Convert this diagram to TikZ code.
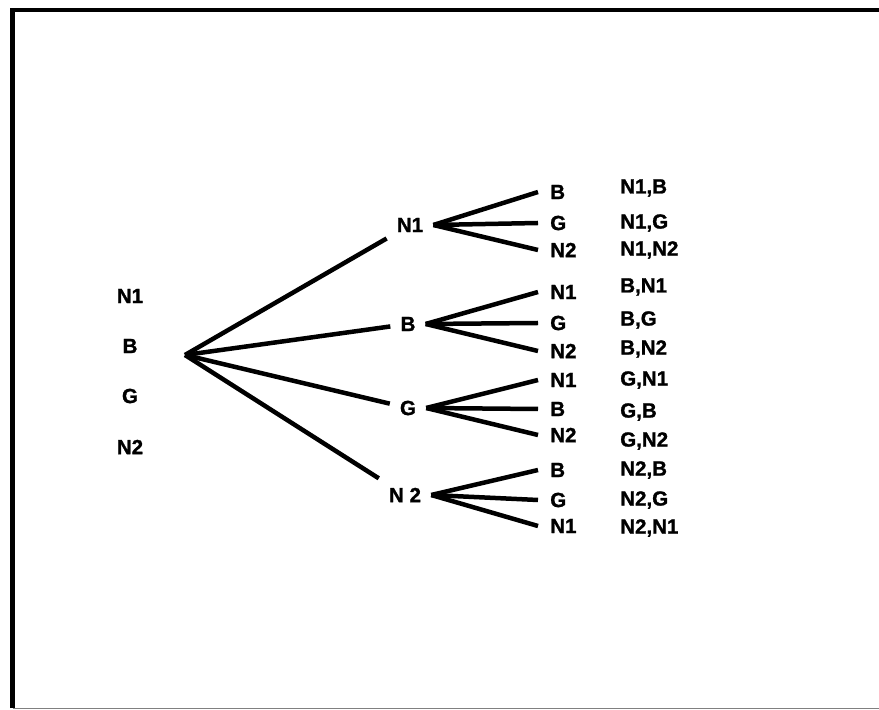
\documentclass[tikz,border=0pt]{standalone}
\usepackage{fontspec}
\setmainfont{Liberation Sans}
\newfontfamily\lblfont{Liberation Sans Bold}[FakeBold=1.2]
\usepackage{tikz}

\begin{document}
\begin{tikzpicture}[line width=3.2pt,
    every node/.style={font=\lblfont\fontsize{14.6}{16}\selectfont},
    mid/.style={inner sep=0.2cm},
    leaf/.style={anchor=west,inner sep=0.25cm},
    pair/.style={anchor=west,inner sep=0pt}]
    \useasboundingbox (0,0) rectangle (21.975,17.725);
    \draw[line width=3pt] (0.3125,0.025) -- (0.3125,17.475) -- (21.975,17.475);
    \draw[line width=0.6pt,gray] (0.3125,0.025) -- (21.975,0.025);

    % left column
    \node (l1) at (3.25,10.325) {N1};
    \node (l2) at (3.25,9.075) {B};
    \node (l3) at (3.25,7.825) {G};
    \node (l4) at (3.25,6.55) {N2};

    \coordinate (r) at (4.625,8.85);

    % first draw
    \node[mid] (a) at (10.25,12.1) {N1};
    \node[mid] (b) at (10.2,9.625) {B};
    \node[mid] (c) at (10.2,7.525) {G};
    \node[mid] (d) at (10.125,5.35) {N 2};
    \draw (r) -- (a);
    \draw (r) -- (b);
    \draw (r) -- (c);
    \draw (r) -- (d);

    % second draw
    \node[leaf] (a1) at (13.45,12.925) {B};
    \node[leaf] (a2) at (13.45,12.15) {G};
    \node[leaf] (a3) at (13.45,11.475) {N2};
    \draw (a.east) -- (a1.west);
    \draw (a.east) -- (a2.west);
    \draw (a.east) -- (a3.west);

    \node[leaf] (b1) at (13.45,10.425) {N1};
    \node[leaf] (b2) at (13.45,9.65) {G};
    \node[leaf] (b3) at (13.45,8.95) {N2};
    \draw (b.east) -- (b1.west);
    \draw (b.east) -- (b2.west);
    \draw (b.east) -- (b3.west);

    \node[leaf] (c1) at (13.45,8.225) {N1};
    \node[leaf] (c2) at (13.45,7.5) {B};
    \node[leaf] (c3) at (13.45,6.85) {N2};
    \draw (c.east) -- (c1.west);
    \draw (c.east) -- (c2.west);
    \draw (c.east) -- (c3.west);

    \node[leaf] (d1) at (13.45,5.975) {B};
    \node[leaf] (d2) at (13.45,5.225) {G};
    \node[leaf] (d3) at (13.45,4.575) {N1};
    \draw (d.east) -- (d1.west);
    \draw (d.east) -- (d2.west);
    \draw (d.east) -- (d3.west);

    % outcomes
    \node[pair] (p1) at (15.45,13.025) {N1,B};
    \node[pair] (p2) at (15.45,12.15) {N1,G};
    \node[pair] (p3) at (15.45,11.475) {N1,N2};
    \node[pair] (p4) at (15.45,10.55) {B,N1};
    \node[pair] (p5) at (15.45,9.725) {B,G};
    \node[pair] (p6) at (15.45,9.0) {B,N2};
    \node[pair] (p7) at (15.45,8.225) {G,N1};
    \node[pair] (p8) at (15.45,7.425) {G,B};
    \node[pair] (p9) at (15.45,6.7) {G,N2};
    \node[pair] (p10) at (15.45,5.975) {N2,B};
    \node[pair] (p11) at (15.45,5.225) {N2,G};
    \node[pair] (p12) at (15.45,4.525) {N2,N1};
\end{tikzpicture}
\end{document}
